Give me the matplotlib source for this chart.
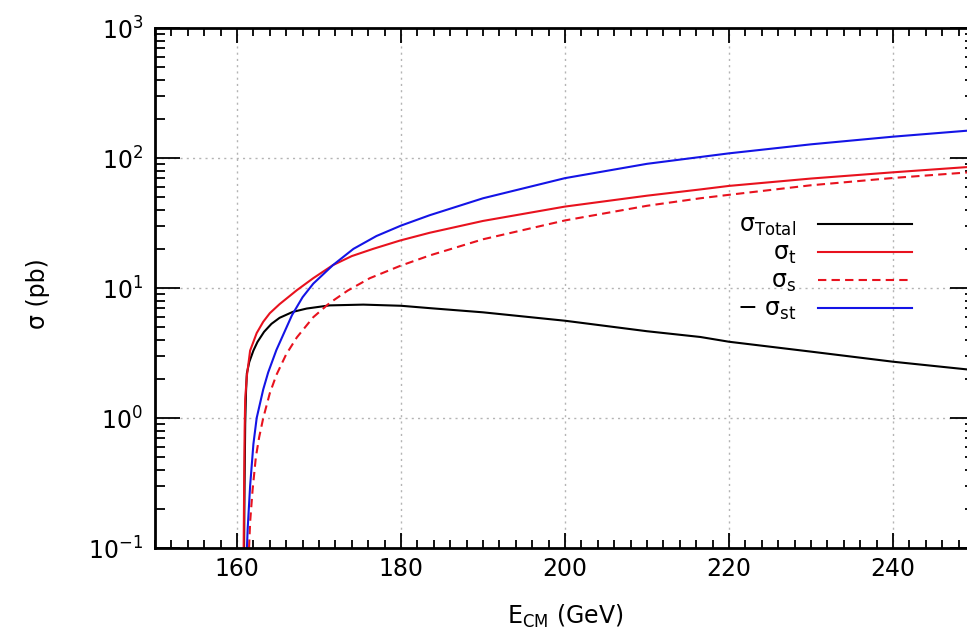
import numpy as np
import matplotlib.pyplot as plt
from matplotlib.ticker import LogLocator, MultipleLocator, NullFormatter

plt.rcParams['font.family'] = ['DejaVu Sans']
plt.rcParams['mathtext.fontset'] = 'custom'
plt.rcParams['mathtext.rm'] = 'DejaVu Sans'
plt.rcParams['mathtext.it'] = 'DejaVu Sans:italic'

# sigma_Total (black)
E_tot = [160.85, 160.92, 161.0, 161.1, 161.2, 161.5, 162.0, 162.5, 163.3, 164.2,
         165.2, 166.8, 168.5, 171.3, 175.4, 180.0, 183.5, 190.0, 200.0, 210.0,
         216.5, 220.0, 230.0, 240.0, 250.0]
s_tot = [0.08, 0.3, 0.9, 1.6, 2.2, 2.7, 3.3, 3.85, 4.6, 5.3,
         5.9, 6.55, 6.95, 7.35, 7.45, 7.3, 7.0, 6.5, 5.6, 4.65,
         4.2, 3.86, 3.24, 2.71, 2.33]

# sigma_t (red solid)
E_t = [160.8, 160.87, 160.93, 161.0, 161.2, 161.6, 162.4, 163.2, 164.0, 165.2,
       167.3, 169.3, 171.7, 174.0, 176.6, 179.9, 183.5, 190.0, 200.0, 210.0,
       216.5, 220.0, 230.0, 240.0, 250.0]
s_t = [0.08, 0.3, 0.8, 1.4, 2.1, 3.3, 4.5, 5.5, 6.4, 7.52,
       9.62, 11.9, 15.0, 17.6, 20.0, 23.2, 26.6, 32.8, 42.3, 51.3,
       57.3, 61.0, 69.5, 77.6, 86.0]

# sigma_s (red dashed)
E_s = [161.4, 161.6, 161.9, 162.3, 162.7, 163.2, 164.0, 164.8, 166.0, 167.3,
       169.3, 171.3, 173.5, 176.2, 179.9, 183.5, 190.0, 200.0, 210.0, 216.5,
       220.0, 230.0, 240.0, 250.0]
s_s = [0.079, 0.158, 0.28, 0.5, 0.71, 1.0, 1.55, 2.14, 3.09, 4.17,
       5.96, 7.67, 9.55, 11.9, 14.8, 17.8, 23.7, 33.1, 42.9, 49.0,
       52.1, 61.7, 70.2, 78.2]

# -sigma_st (blue)
E_st = [161.15, 161.3, 161.6, 162.0, 162.4, 163.2, 163.8, 164.8, 166.7, 168.0,
        169.3, 171.7, 174.2, 177.0, 180.0, 183.5, 190.0, 200.0, 210.0, 220.0,
        230.0, 240.0, 250.0]
s_st = [0.079, 0.14, 0.30, 0.63, 1.0, 1.66, 2.24, 3.33, 6.17, 8.5,
        10.8, 15.0, 20.0, 25.1, 30.2, 36.3, 49.0, 70.0, 90.2, 108.6,
        127.4, 145.9, 164.0]

fig = plt.figure(figsize=(9.67, 6.33), dpi=100)
ax = fig.add_axes([155 / 967, 85 / 633, 820 / 967, 520 / 633])

ax.semilogy(E_tot, s_tot, color='black', lw=1.5, label=r'σ$_{\mathrm{Total}}$')
ax.semilogy(E_t, s_t, color='#e8121e', lw=1.5, label=r'σ$_{\mathrm{t}}$')
ax.semilogy(E_s, s_s, color='#e8121e', lw=1.5, ls=(0, (4, 2.5)), label=r'σ$_{\mathrm{s}}$')
ax.semilogy(E_st, s_st, color='#1414e6', lw=1.5, label=r'$-$ σ$_{\mathrm{st}}$')

ax.set_xlim(150, 250)
ax.set_ylim(0.1, 1000)
ax.xaxis.set_major_locator(MultipleLocator(20))
ax.xaxis.set_minor_locator(MultipleLocator(2))
ax.yaxis.set_major_locator(LogLocator(base=10, numticks=10))
ax.yaxis.set_minor_locator(LogLocator(base=10, subs=np.arange(2, 10), numticks=10))
ax.yaxis.set_minor_formatter(NullFormatter())

ax.tick_params(which='both', direction='in', top=True, right=True, width=1.3, labelsize=17)
ax.tick_params(axis='x', which='major', length=11, pad=6.5)
ax.tick_params(axis='x', which='minor', length=6)
ax.tick_params(axis='y', which='major', length=18, pad=8.5)
ax.tick_params(axis='y', which='minor', length=7)
for sp in ax.spines.values():
    sp.set_linewidth(2)

ax.grid(which='major', color='#b4b4b4', ls=(0, (1.5, 3)), lw=1)

ax.set_xlabel(r'E$_{\mathrm{CM}}$ (GeV)', fontsize=17)
ax.xaxis.set_label_coords(0.5, -0.105)
ax.set_ylabel('σ (pb)', fontsize=17)
ax.yaxis.set_label_coords(-0.128, 0.49)

ax.legend(loc='center right', bbox_to_anchor=(912 / 967, 1 - 267.5 / 633),
          bbox_transform=fig.transFigure, frameon=False, markerfirst=False,
          fontsize=17, handlelength=4.0, handletextpad=0.9, labelspacing=0.12,
          borderpad=0, borderaxespad=0)

plt.savefig('out.png', dpi=100)
